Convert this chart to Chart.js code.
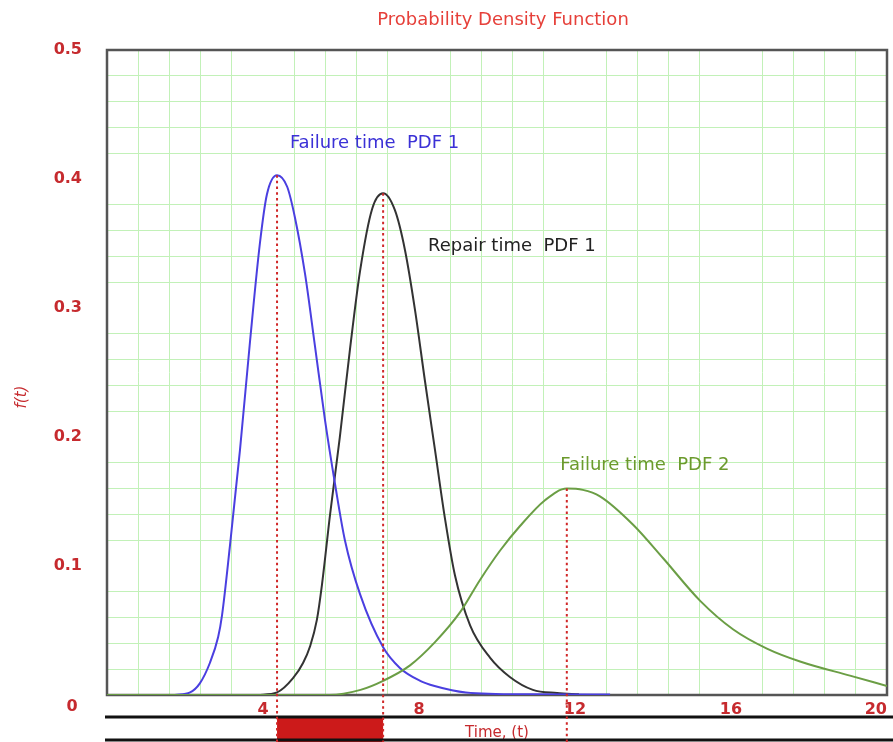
<!DOCTYPE html>
<html>
<head>
<meta charset="utf-8">
<script src="https://cdn.jsdelivr.net/npm/chart.js@4.4.1/dist/chart.umd.min.js"></script>
<style>
  html, body { margin: 0; padding: 0; background: #fff; }
  #wrap { width: 893px; height: 742px; }
</style>
</head>
<body>
<div id="wrap"><canvas id="pdfChart"></canvas></div>
<script>
// values
const failure1X = [1.74, 2.13, 2.38, 2.64, 2.85, 2.95, 3.15, 3.41, 3.67, 3.92, 4.1, 4.36, 4.62, 4.82, 5.08, 5.33, 5.59, 5.85, 6.1, 6.49, 7.08, 7.51, 8.03, 8.4, 9.2, 10.85, 12.9];
const failure1Y = [0, 0.002, 0.009, 0.025, 0.045, 0.062, 0.115, 0.19, 0.275, 0.35, 0.388, 0.403, 0.394, 0.37, 0.326, 0.271, 0.213, 0.163, 0.12, 0.078, 0.037, 0.021, 0.011, 0.007, 0.002, 0.0005, 0.0003];

const repair1X = [3.87, 4.36, 4.77, 5.03, 5.21, 5.38, 5.51, 5.72, 5.97, 6.23, 6.49, 6.8, 7.08, 7.38, 7.64, 7.9, 8.15, 8.41, 8.67, 8.92, 9.31, 9.82, 10.33, 10.92, 11.54, 12.1];
const repair1Y = [0, 0.002, 0.013, 0.025, 0.038, 0.058, 0.085, 0.14, 0.2, 0.268, 0.329, 0.377, 0.389, 0.376, 0.345, 0.298, 0.244, 0.19, 0.136, 0.093, 0.054, 0.029, 0.014, 0.004, 0.0015, 0.0005];

const failure2X = [0, 5.7, 6.5, 7.08, 7.77, 8.41, 9.05, 9.56, 10.08, 10.59, 11.23, 11.79, 12.2, 12.64, 13.49, 14.26, 15.21, 16.05, 16.92, 17.77, 19.05, 20];
const failure2Y = [0, 0, 0.004, 0.011, 0.023, 0.041, 0.064, 0.089, 0.112, 0.131, 0.151, 0.16, 0.159, 0.154, 0.132, 0.106, 0.073, 0.051, 0.036, 0.026, 0.015, 0.007];

// peaks (modes) of the three curves
const modeX = [4.36, 7.08, 11.79];
const modeY = [0.403, 0.389, 0.16];

const xTickStep = 0.8;
const yTickStep = 0.02;

const RED = '#c62a2e';
const FONT = 'DejaVu Sans';

function toPoints(xs, ys) {
  return xs.map((x, i) => ({ x: x, y: ys[i] }));
}

function isMajor(v, step) {
  const r = v / step;
  return Math.abs(r - Math.round(r)) < 1e-6;
}

// curve captions, placed in data units
const captions = [
  { text: 'Failure time  PDF 1', x: 4.69, y: 0.428, color: '#3b31d6' },
  { text: 'Repair time  PDF 1', x: 8.23, y: 0.348, color: '#222222' },
  { text: 'Failure time  PDF 2', x: 11.62, y: 0.178, color: '#6b9a2c' }
];

const decorations = {
  id: 'decorations',
  beforeDatasetsDraw(chart) {
    const { ctx, chartArea: a } = chart;
    ctx.save();
    ctx.strokeStyle = '#555';
    ctx.lineWidth = 2.5;
    ctx.strokeRect(a.left, a.top, a.right - a.left, a.bottom - a.top);

    // title, centred over the plot
    ctx.fillStyle = '#e6403a';
    ctx.font = '18px "' + FONT + '"';
    ctx.textAlign = 'center';
    ctx.textBaseline = 'middle';
    ctx.fillText('Probability Density Function', (a.left + a.right) / 2 + 6, 20);
    ctx.restore();
  },
  afterDatasetsDraw(chart) {
    const { ctx, chartArea: a, scales: { x, y } } = chart;
    const H = chart.height;
    ctx.save();

    // band under the axis: failure -> repair interval
    const x0 = x.getPixelForValue(modeX[0]);
    const x1 = x.getPixelForValue(modeX[1]);
    ctx.fillStyle = '#cc1a1a';
    ctx.fillRect(x0, a.bottom + 22, x1 - x0, H - a.bottom - 22);
    ctx.strokeStyle = '#111';
    ctx.lineWidth = 3;
    ctx.beginPath();
    ctx.moveTo(a.left - 2, a.bottom + 22);
    ctx.lineTo(chart.width, a.bottom + 22);
    ctx.moveTo(a.left - 2, H - 2);
    ctx.lineTo(chart.width, H - 2);
    ctx.stroke();

    // dotted lines at the modes
    ctx.strokeStyle = '#d02828';
    ctx.lineWidth = 2;
    ctx.setLineDash([2.5, 3.2]);
    modeX.forEach((m, i) => {
      const px = x.getPixelForValue(m);
      ctx.beginPath();
      ctx.moveTo(px, y.getPixelForValue(modeY[i]));
      ctx.lineTo(px, H);
      ctx.stroke();
    });
    ctx.setLineDash([]);

    // captions
    ctx.font = '18px "' + FONT + '"';
    ctx.textBaseline = 'middle';
    ctx.textAlign = 'left';
    captions.forEach(c => {
      ctx.fillStyle = c.color;
      ctx.fillText(c.text, x.getPixelForValue(c.x), y.getPixelForValue(c.y));
    });

    // zero label and y-axis title
    ctx.fillStyle = RED;
    ctx.font = 'bold 16px "' + FONT + '"';
    ctx.textAlign = 'center';
    ctx.fillText('0', a.left - 35, a.bottom + 12);
    ctx.translate(22, 397);
    ctx.rotate(-Math.PI / 2);
    ctx.font = 'italic 15px "' + FONT + '"';
    ctx.fillText('f(t)', 0, 0);
    ctx.restore();
  }
};

const lineStyle = { showLine: true, pointRadius: 0, borderWidth: 2, cubicInterpolationMode: 'monotone', fill: false };

new Chart(document.getElementById('pdfChart'), {
  type: 'scatter',
  data: {
    datasets: [
      Object.assign({ label: 'Failure time PDF 2', data: toPoints(failure2X, failure2Y), borderColor: '#6b9e45' }, lineStyle),
      Object.assign({ label: 'Failure time PDF 1', data: toPoints(failure1X, failure1Y), borderColor: '#4a3fe0' }, lineStyle),
      Object.assign({ label: 'Repair time PDF 1', data: toPoints(repair1X, repair1Y), borderColor: '#333333' }, lineStyle)
    ]
  },
  options: {
    responsive: true,
    maintainAspectRatio: false,
    animation: false,
    layout: { padding: { left: 0, right: 6, top: 50, bottom: 0 } },
    plugins: {
      legend: { display: false },
      tooltip: { enabled: false },
      title: { display: false }
    },
    scales: {
      x: {
        type: 'linear',
        min: 0,
        max: 20,
        afterFit: s => { s.height = 47; },
        border: { display: false },
        grid: {
          drawTicks: false,
          lineWidth: 1,
          color: c => isMajor(c.tick.value, 4) ? 'rgba(0,0,0,0)' : '#c2f1b8'
        },
        ticks: {
          stepSize: xTickStep,
          autoSkip: false,
          maxRotation: 0,
          align: 'inner',
          padding: 5,
          color: RED,
          font: { family: FONT, size: 16, weight: 'bold' },
          callback: v => (v > 0 && isMajor(v, 4)) ? String(Math.round(v)) : ''
        },
        title: {
          display: true,
          text: 'Time, (t)',
          color: RED,
          font: { family: FONT, size: 15 },
          padding: { top: 0, bottom: 0 }
        }
      },
      y: {
        min: 0,
        max: 0.5,
        afterFit: s => { s.width = 107; },
        border: { display: false },
        grid: {
          drawTicks: false,
          lineWidth: 1,
          color: c => isMajor(c.tick.value, 0.1) ? 'rgba(0,0,0,0)' : '#c2f1b8'
        },
        ticks: {
          stepSize: yTickStep,
          autoSkip: false,
          padding: 25,
          color: RED,
          font: { family: FONT, size: 16, weight: 'bold' },
          callback: v => (v > 0 && isMajor(v, 0.1)) ? v.toFixed(1) : ''
        }
      }
    }
  },
  plugins: [decorations]
});
</script>
</body>
</html>
